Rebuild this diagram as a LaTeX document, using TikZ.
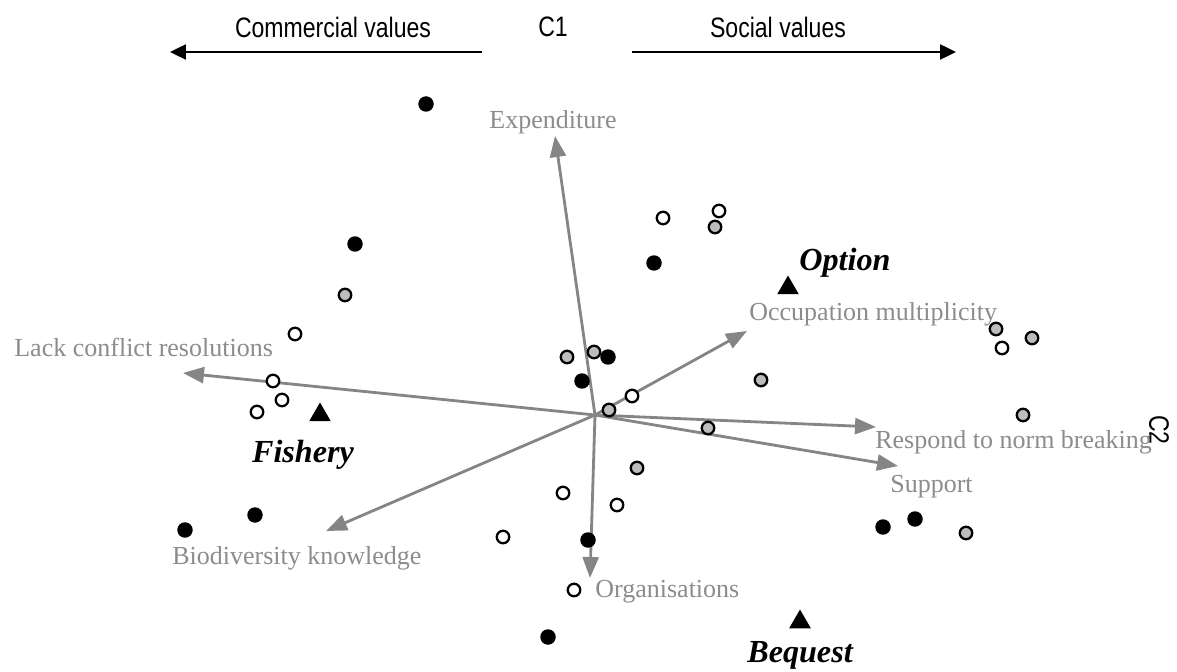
\documentclass[tikz,border=0pt]{standalone}
\usepackage{fontspec}
\setmainfont{Liberation Serif}
\newfontfamily\topfont[FakeStretch=0.82]{Liberation Sans}
\usetikzlibrary{arrows.meta,shapes.geometric}
\definecolor{vecgray}{HTML}{858585}
\definecolor{labgray}{HTML}{8C8C8C}
\definecolor{ptgray}{HTML}{BDBDBD}
\begin{document}
\begin{tikzpicture}[x=0.02cm,y=-0.02cm,
  vec/.style={draw=vecgray, line width=1.6pt, -{Triangle[length=0.42cm,width=0.32cm]}},
  axisarrow/.style={draw=black, line width=1.4pt, -{Triangle[length=0.32cm,width=0.3cm]}},
  vlab/.style={text=labgray, font=\fontsize{14.8}{16}\selectfont, inner sep=0pt},
  cat/.style={font=\fontsize{18.3}{20}\selectfont\bfseries\itshape, inner sep=0pt},
  toplab/.style={font=\topfont\fontsize{16}{18}\selectfont, inner sep=0pt},
  tri/.style={regular polygon, regular polygon sides=3, fill=black, minimum size=0.5cm, inner sep=0pt},
  bdot/.style={circle, fill=black, minimum size=0.31cm, inner sep=0pt},
  gdot/.style={circle, draw=black, line width=1.3pt, fill=ptgray, minimum size=0.25cm, inner sep=0pt},
  wdot/.style={circle, draw=black, line width=1.3pt, fill=white, minimum size=0.25cm, inner sep=0pt}]
\useasboundingbox (0,0) rectangle (1177,672);
% top axis
\node[toplab] (comm) at (333,27) {Commercial values};
\node[toplab] (c1) at (553,27) {C1};
\node[toplab] (soc) at (778,27) {Social values};
\coordinate (la1) at (482,52);
\coordinate (la2) at (170,52);
\coordinate (ra1) at (632,52);
\coordinate (ra2) at (956,52);
\draw[axisarrow] (la1) -- (la2);
\draw[axisarrow] (ra1) -- (ra2);
\node[toplab, rotate=-90] (c2) at (1159,430) {C2};
% vectors
\coordinate (O) at (595,415);
\coordinate (eExp) at (555,136);
\coordinate (eLack) at (183,373);
\coordinate (eOcc) at (747,331);
\coordinate (eResp) at (876,427);
\coordinate (eSup) at (898,466);
\coordinate (eBio) at (326,531);
\coordinate (eOrg) at (590,578);
\foreach \e in {eExp,eLack,eOcc,eResp,eSup,eBio,eOrg} \draw[vec] (O) -- (\e);
% vector labels
\node[vlab] (lExp) at (553,122) {Expenditure};
\node[vlab, anchor=west] (lLack) at (14,347) {Lack conflict resolutions};
\node[vlab, anchor=west] (lOcc) at (749,314) {Occupation multiplicity};
\node[vlab, anchor=west] (lResp) at (875,442) {Respond to norm breaking};
\node[vlab, anchor=west] (lSup) at (890,487) {Support};
\node[vlab, anchor=west] (lBio) at (172,558) {Biodiversity knowledge};
\node[vlab, anchor=west] (lOrg) at (595,592) {Organisations};
% categories
\node[tri] (tOpt) at (788,288) {};
\node[cat] (lOpt) at (845,263) {Option};
\node[tri] (tFish) at (320,415) {};
\node[cat] (lFish) at (303,455) {Fishery};
\node[tri] (tBeq) at (800,622) {};
\node[cat] (lBeq) at (800,655) {Bequest};
% black points
\foreach \x/\y [count=\i] in {426/104, 355/244, 654/263, 608/357, 582/381, 185/530, 255/515, 588/540, 883/527, 915/519, 548/637}
  \node[bdot] (b\i) at (\x,\y) {};
% gray points
\foreach \x/\y [count=\i] in {345/295, 567/357, 594/352, 761/380, 609/410, 708/428, 637/468, 715/227, 996/329, 1032/338, 1023/415, 966/533}
  \node[gdot] (g\i) at (\x,\y) {};
% white points
\foreach \x/\y [count=\i] in {663/218, 719/211, 295/334, 273/381, 282/400, 257/412, 632/396, 563/493, 617/505, 503/537, 574/590, 1002/348}
  \node[wdot] (w\i) at (\x,\y) {};
\end{tikzpicture}
\end{document}
